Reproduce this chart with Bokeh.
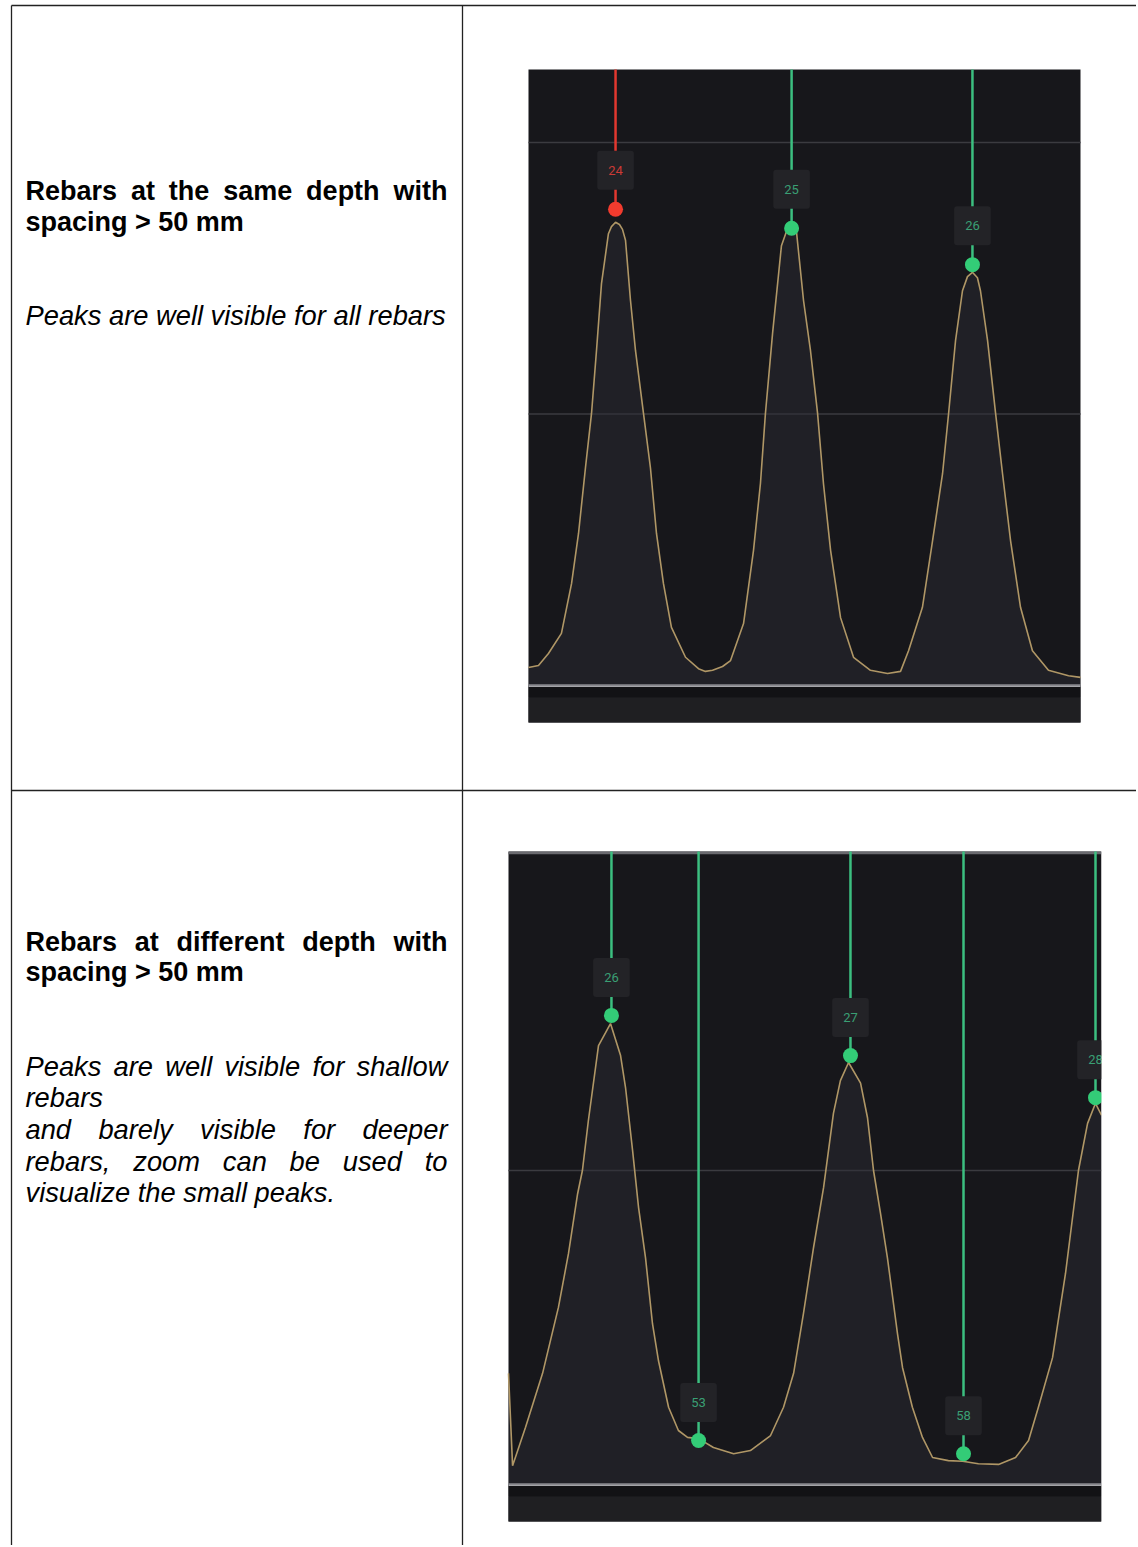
import numpy as np
from bokeh.plotting import figure
from bokeh.models import Range1d
from bokeh.embed import file_html
from bokeh.resources import INLINE
from bokeh.core.properties import value

# ---------------- data ----------------
# Panel 1: rebars at the same depth (scan position mm, signal amplitude %)
p1_pos = [0, 5.6, 11.2, 18.5, 24.2, 28.1, 32.0, 35.4, 38.2, 41.0, 44.9, 46.6, 48.9, 51.1, 52.8,
          54.5, 57.3, 60.1, 64.6, 68.5, 71.9, 75.8, 80.3, 88.2, 95.5, 99.4, 103.4, 109.0, 113.5,
          120.8, 126.4, 130.3, 133.1, 137.1, 142.1, 144.9, 147.8, 150.6, 154.5, 158.4, 162.4,
          165.7, 169.7, 175.3, 182.6, 192.1, 201.7, 209.0, 213.5, 221.3, 227.0, 232.6, 236.0,
          239.9, 243.8, 246.6, 249.4, 252.2, 253.9, 257.9, 262.4, 266.3, 270.8, 276.4, 283.1,
          292.1, 303.4, 310.1]
p1_amp = [3.3, 3.7, 5.9, 9.6, 18.8, 28.0, 40.1, 50.1, 61.7, 74.0, 83.2, 84.5, 85.3, 84.9, 84.0,
          82.0, 70.9, 61.7, 50.1, 40.1, 28.0, 18.8, 10.7, 5.2, 3.1, 2.6, 2.8, 3.5, 4.6,
          11.4, 24.9, 37.2, 50.1, 64.8, 81.0, 83.6, 84.5, 83.4, 70.9, 61.7, 50.1,
          37.2, 24.9, 12.5, 5.2, 2.8, 2.2, 2.6, 6.4, 14.4, 26.7, 39.0, 50.1,
          63.5, 72.7, 75.3, 76.1, 75.1, 72.7, 63.5, 50.1, 39.0, 26.7, 14.4, 6.4,
          2.8, 1.8, 1.5]
p1_mark_pos = [48.9, 147.8, 249.4]
p1_mark_amp = [87.7, 84.2, 77.5]
p1_mark_label = ["24", "25", "26"]
p1_mark_state = ["alert", "ok", "ok"]

# Panel 2: rebars at different depth
p2_pos = [0, 1.7, 7.1, 14.2, 20.8, 25.0, 28.8, 30.8, 33.3, 37.5, 42.5, 46.7, 48.8, 51.7, 54.2,
          57.1, 60.0, 62.5, 66.7, 70.8, 74.6, 79.2, 85.4, 93.8, 100.8, 109.2, 114.6, 118.8,
          122.9, 127.1, 131.3, 135.4, 138.3, 141.7, 146.7, 149.6, 152.1, 155.0, 157.9, 162.1,
          164.2, 168.3, 172.5, 176.7, 183.3, 189.2, 195.8, 204.2, 211.3, 216.7, 220.8, 226.7,
          232.1, 237.5, 241.3, 244.6, 247.1]
p2_amp = [17.7, 3.0, 9.1, 17.7, 28.2, 36.8, 46.3, 50.0, 58.0, 69.9, 73.4, 68.3, 63.1, 53.2, 44.1,
          36.1, 25.6, 19.7, 12.3, 8.6, 7.5, 7.3, 5.9, 4.9, 5.4, 7.8, 12.3, 17.7,
          27.2, 37.7, 47.3, 59.1, 64.3, 67.2, 63.9, 58.4, 50.0, 43.2, 36.1, 24.0,
          18.6, 12.3, 7.5, 4.3, 3.8, 3.7, 3.3, 3.2, 4.3, 7.0, 12.3, 20.2,
          33.6, 50.0, 57.5, 60.7, 58.8]
p2_mark_pos = [42.9, 79.2, 142.5, 189.6, 244.6]
p2_mark_amp = [74.7, 7.0, 68.3, 4.9, 61.6]
p2_mark_label = ["26", "53", "27", "58", "28"]
p2_mark_state = ["ok", "ok", "ok", "ok", "ok"]

grid_levels = [0, 50, 100]

row1_title = ["Rebars at the same depth with", "spacing > 50 mm"]
row1_note = ["Peaks are well visible for all rebars"]
row2_title = ["Rebars at different depth with", "spacing > 50 mm"]
row2_note = ["Peaks are well visible for shallow", "rebars", "and barely visible for deeper",
             "rebars, zoom can be used to", "visualize the small peaks."]

# ---------------- layout / style ----------------
W, H = 1136, 1545
OX, OY = 0, 0
FONT = "Liberation Sans"
FS_BOLD = 27
FS_ITAL = 27.3
TEXT_L, TEXT_R = 25, 447

REG = dict(zip(" ,.>05PR", [278, 278, 278, 584, 556, 556, 667, 722]))
REG.update(dict(zip("abcdefghijklmnopqrstuvwxyz",
                    [556, 556, 500, 556, 556, 278, 556, 556, 222, 222, 500, 222, 833, 556, 556,
                     556, 556, 333, 500, 278, 556, 500, 722, 500, 500, 500])))
BOLD = dict(zip(" ,.>05PR", [278, 278, 278, 584, 556, 556, 667, 722]))
BOLD.update(dict(zip("abcdefghijklmnopqrstuvwxyz",
                     [556, 611, 556, 611, 556, 333, 611, 611, 278, 278, 556, 278, 889, 611, 611,
                      611, 611, 389, 556, 333, 611, 556, 778, 556, 556, 500])))


def tw(s, bold, fs):
    t = BOLD if bold else REG
    return sum(t.get(c, 556) for c in s) * fs / 1000.0


BG = "#17171b"
STRIP = "#1f1f22"
DARKBAND = "#121215"
GRID = "#3b3b40"
BASE = "#a4a4a8"
CURVE = "#b09766"
FILL = "#2c2c36"
BOX = "#232327"
LINE_COL = {"ok": "#3cbf80", "alert": "#e2382f"}
DOT_COL = {"ok": "#33cc77", "alert": "#f23b2e"}
LAB_COL = {"ok": "#3a9f74", "alert": "#cc3a35"}

p = figure(width=W, height=H, x_range=Range1d(OX, OX + W), y_range=Range1d(OY + H, OY),
           output_backend="svg", toolbar_location=None, x_axis_type=None, y_axis_type=None,
           min_border=0, outline_line_color=None)
p.background_fill_color = "white"
p.border_fill_color = "white"

# table frame
p.segment(x0=[11, 462, 11, 11], y0=[5, 5, 5, 790], x1=[11, 462, 1138, 1138], y1=[1547, 1547, 5, 790],
          line_color="#222222", line_width=1.3)


def put_lines(lines, baselines, justify, bold):
    style = "bold" if bold else "italic"
    fs = FS_BOLD if bold else FS_ITAL
    for line, yb, jus in zip(lines, baselines, justify):
        words = line.split(" ")
        if jus and len(words) > 1:
            widths = [tw(w, bold, fs) for w in words]
            gap = (TEXT_R - TEXT_L - sum(widths)) / (len(words) - 1)
            xs, x = [], TEXT_L
            for wd in widths:
                xs.append(x)
                x += wd + gap
            txt = words
        else:
            xs, txt = [TEXT_L], [line]
        p.text(x=xs, y=[yb] * len(xs), text=txt, text_font=value(FONT), text_font_size=f"{fs}px",
               text_font_style=style, text_color="black", text_baseline="alphabetic", text_align="left")


put_lines(row1_title, [190, 221], [True, False], True)
put_lines(row1_note, [315], [False], False)
put_lines(row2_title, [941, 971], [True, False], True)
put_lines(row2_note, [1066, 1097, 1129, 1161, 1192], [True, False, True, True, False], False)


def draw_panel(name, box, pos, amp, mpos, mamp, mlab, mstate, ycal, label_off, top_border):
    left, right, top, bottom = box
    x0, x1 = min(pos), max(pos)
    kx = (right - left) / (x1 - x0)
    xs = x0 - (left - OX) / kx
    (py0, a0), (py1, a1) = ycal
    ky = (py0 - py1) / (a1 - a0)
    ys = a0 - (OY + H - py0) / ky
    p.extra_x_ranges[name + "x"] = Range1d(xs, xs + W / kx)
    p.extra_y_ranges[name + "y"] = Range1d(ys, ys + H / ky)
    kw = dict(x_range_name=name + "x", y_range_name=name + "y")
    a_top = a0 + (py0 - top) / ky

    p.quad(left=[left], right=[right], top=[top], bottom=[bottom], fill_color=BG, line_color=None)
    p.quad(left=[left], right=[right], top=[py0], bottom=[py0 + 12], fill_color=DARKBAND, line_color=None)
    p.quad(left=[left], right=[right], top=[py0 + 12], bottom=[bottom], fill_color=STRIP, line_color=None)

    gl = [g for g in grid_levels if 0 < g <= a_top - 2]
    p.segment(x0=[x0] * len(gl), x1=[x1] * len(gl), y0=gl, y1=gl, line_color=GRID, line_width=1.6, **kw)
    if top_border:
        p.segment(x0=[left], x1=[right], y0=[top + 1.5], y1=[top + 1.5], line_color="#6a6a6f", line_width=2.5)
    p.segment(x0=[x0], x1=[x1], y0=[0], y1=[0], line_color=BASE, line_width=3, **kw)

    p.varea(x=pos, y1=[0] * len(pos), y2=amp, fill_color=FILL, fill_alpha=0.45, **kw)
    p.line(pos, amp, line_color=CURVE, line_width=1.6, **kw)

    n = len(mpos)
    p.segment(x0=mpos, x1=mpos, y0=[a_top] * n, y1=mamp, line_color=[LINE_COL[s] for s in mstate],
              line_width=2.5, **kw)
    p.text(x=mpos, y=mamp, text=mlab, y_offset=-label_off, text_align="center", text_baseline="middle",
           text_font=value("Roboto"), text_font_size="13px", text_color=[LAB_COL[s] for s in mstate],
           background_fill_color=BOX, background_fill_alpha=1.0, padding=(11, 15), border_radius=3, **kw)
    p.scatter(mpos, mamp, size=15, fill_color=[DOT_COL[s] for s in mstate], line_color=None, **kw)


draw_panel("p1", (528, 1080, 69, 722), p1_pos, p1_amp, p1_mark_pos, p1_mark_amp, p1_mark_label,
           p1_mark_state, ((685, 0), (142, 100)), 39, False)
draw_panel("p2", (508, 1101, 851, 1521), p2_pos, p2_amp, p2_mark_pos, p2_mark_amp, p2_mark_label,
           p2_mark_state, ((1484, 0), (1170, 50)), 38, True)
# crop panel 2 content at its right edge
p.quad(left=[1101], right=[1136], top=[840], bottom=[1530], fill_color="white", line_color=None)

open("out.html", "w").write(file_html(p, INLINE))
